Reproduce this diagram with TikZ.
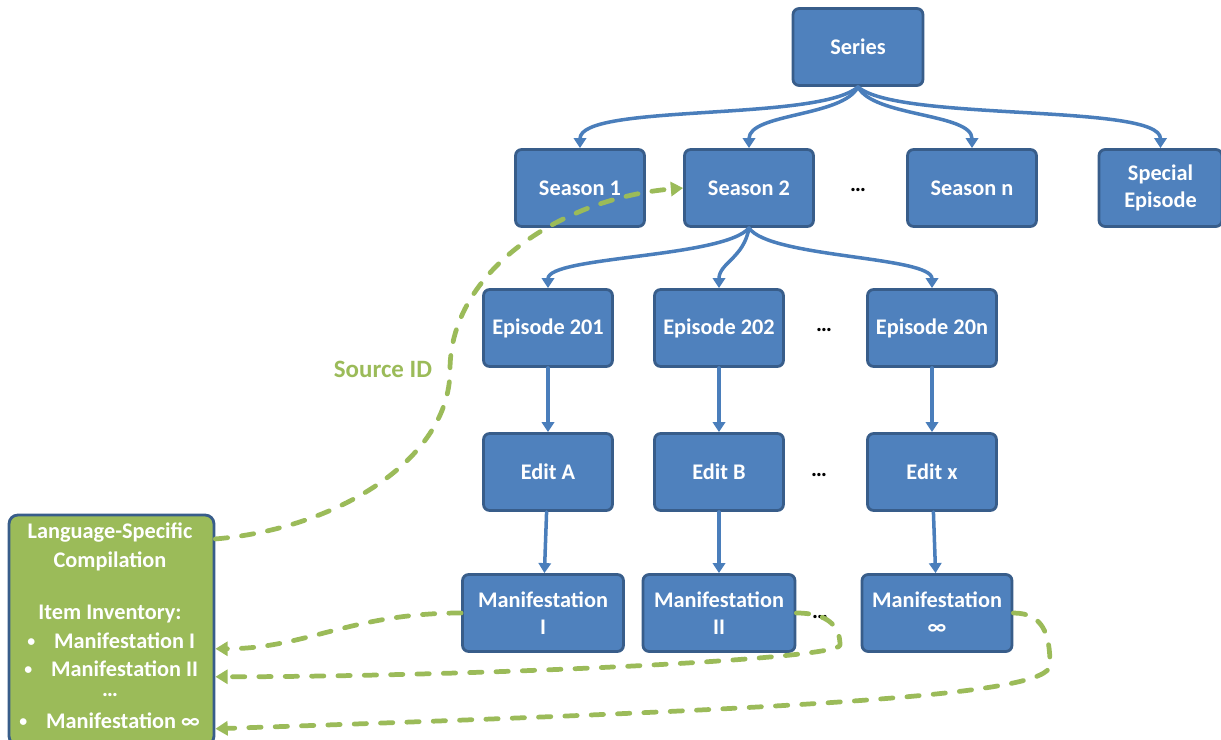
\documentclass[tikz,border=0pt]{standalone}
\usepackage{fontspec}
\setmainfont{Carlito}
\usetikzlibrary{arrows.meta}
\definecolor{boxblue}{HTML}{4F81BD}
\definecolor{edgeblue}{HTML}{385D8A}
\definecolor{arrowblue}{HTML}{4A7EBB}
\definecolor{srcgreen}{HTML}{9BBB59}
\newcommand{\invbullet}{\raisebox{0.12em}{\fontsize{9}{9}\selectfont•}}
\begin{document}
\begin{tikzpicture}[x=0.02cm, y=-0.02cm, line join=round, line cap=round,
  font=\fontsize{12.7}{15.5}\selectfont\bfseries,
  item/.style={draw=edgeblue, line width=1.6pt, fill=boxblue, text=white, rounded corners=3.5pt,
    minimum width=2.58cm, minimum height=1.54cm, align=center, inner sep=2pt},
  link/.style={-{Triangle[length=5.7pt,width=7pt]}, draw=arrowblue, line width=2pt},
  srclink/.style={-{Triangle[length=7pt,width=8pt]}, draw=srcgreen, line width=2.7pt,
    dash pattern=on 7pt off 8pt},
  more/.style={text=black}, invline/.style={text=white, anchor=west, inner sep=0pt}]
\useasboundingbox (0,0) rectangle (1221,740);
% tree
\node[item, minimum width=2.6cm] (series) at (858,47) {Series};
\node[item] (s1) at (580,188) {Season 1};
\node[item] (s2) at (749,188) {Season 2};
\node[more] (sdots) at (858,190) {…};
\node[item] (sn) at (972,188) {Season n};
\node[item, minimum width=2.46cm] (sp) at (1160.5,188) {Special\\Episode};
\node[item] (e1) at (548,328) {Episode 201};
\node[item] (e2) at (719,328) {Episode 202};
\node[more] (edots) at (824,330) {…};
\node[item] (en) at (932,328) {Episode 20n};
\node[item] (ea) at (548,472) {Edit A};
\node[item] (eb) at (719,472) {Edit B};
\node[more] (adots) at (819,475) {…};
\node[item] (ex) at (932,472) {Edit x};
\node[item, minimum width=3.22cm] (m1) at (543,613) {Manifestation\\I};
\node[item, minimum width=3.04cm] (m2) at (719,613) {Manifestation\\II};
\node[more] (mdots) at (820,617) {…};
\node[item, minimum width=3cm] (m3) at (937,613) {Manifestation\\∞};
% compilation box
\node[draw=edgeblue, line width=1.6pt, fill=srcgreen, rounded corners=5pt,
  minimum width=4.1cm, minimum height=4.6cm] (lsc) at (111.5,630) {};
\node[text=white] (lsc1) at (110,533) {Language-Specific};
\node[text=white] (lsc2) at (110,561) {Compilation};
\node[text=white] (lsc3) at (110,614) {Item Inventory:};
\node[invline] (inv1) at (27,641) {\invbullet\hspace{0.85em}Manifestation I};
\node[invline] (inv2) at (24,669) {\invbullet\hspace{0.85em}Manifestation II};
\node[text=white] (invdots) at (110,695) {…};
\node[invline] (inv3) at (19,721) {\invbullet\hspace{0.85em}Manifestation ∞};
\node[text=srcgreen, font=\fontsize{14.2}{17}\selectfont\bfseries] (srcid) at (383,369) {Source ID};
% hierarchy links
\draw[link] (series.south) .. controls +(-40,35) and +(0,-45) .. (s1.north);
\draw[link] (series.south) .. controls +(-15,30) and +(0,-35) .. (s2.north);
\draw[link] (series.south) .. controls +(15,30) and +(0,-35) .. (sn.north);
\draw[link] (series.south) .. controls +(40,35) and +(0,-45) .. (sp.north);
\draw[link] (s2.south) .. controls +(-25,30) and +(0,-32) .. (e1.north);
\draw[link] (s2.south) .. controls +(-5,30) and +(0,-25) .. (e2.north);
\draw[link] (s2.south) .. controls +(20,30) and +(0,-32) .. (en.north);
\foreach \u/\v in {e1/ea, e2/eb, en/ex, ea/m1, eb/m2, ex/m3}
  \draw[link] (\u) -- (\v);
% source id and inventory links
\coordinate (bend) at (450,370);
\coordinate (loopb) at (840,645);
\coordinate (loopc) at (1050,665);
\draw[srclink] (lsc.east |- lsc1.base) .. controls +(120,-10) and +(0,90) .. (bend)
  .. controls +(0,-100) and +(-120,10) .. (s2.west);
\draw[srclink] (m1.west) .. controls +(-110,0) and +(90,0) .. (lsc.east |- inv1.base);
\draw[srclink] (m2.east) .. controls +(30,0) and +(0,-20) .. (loopb)
  .. controls +(0,15) and +(250,0) .. (lsc.east |- inv2.base);
\draw[srclink] (m3.east) .. controls +(30,0) and +(0,-30) .. (loopc)
  .. controls +(0,30) and +(600,-20) .. (lsc.east |- inv3.base);
\end{tikzpicture}
\end{document}
